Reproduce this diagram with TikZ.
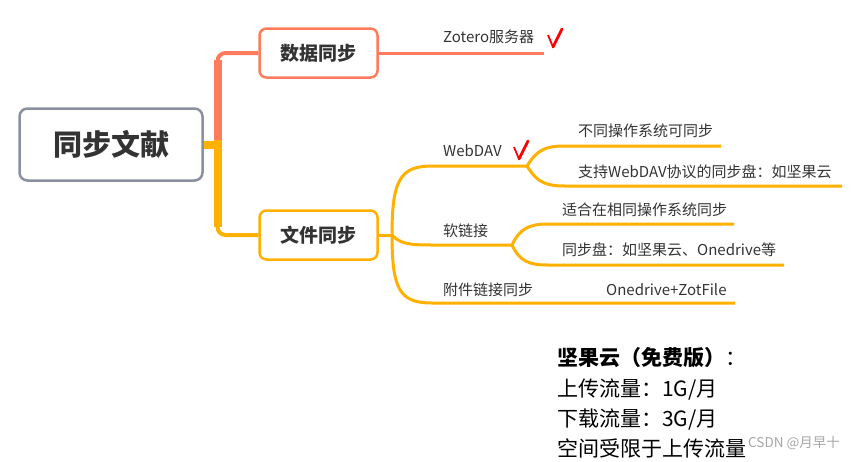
\documentclass[tikz,border=0pt]{standalone}
\usepackage{fontspec}
\setmainfont{Noto Sans CJK SC}
\usetikzlibrary{positioning}
\definecolor{mmred}{HTML}{FF7B5C}
\definecolor{mmorange}{HTML}{FFB000}
\definecolor{mmgray}{HTML}{8A909E}
\definecolor{mmtext}{HTML}{333333}

\begin{document}
\begin{tikzpicture}[
    x=1pt,y=-1pt,
    rootbox/.style  = {draw=mmgray, line width=2.5pt, rounded corners=8pt, fill=white,
                       minimum width=183pt, minimum height=72pt, text=mmtext,
                       font=\fontsize{29}{32}\selectfont\bfseries},
    topicbox/.style = {line width=2.5pt, rounded corners=7pt, fill=white,
                       minimum width=118pt, minimum height=49pt, text=mmtext,
                       font=\fontsize{19}{22}\selectfont\bfseries},
    leaf/.style     = {anchor=west, inner sep=0pt, text=mmtext,
                       font=\fontsize{15}{18}\selectfont},
    trunk/.style    = {line width=8pt},
    twig/.style     = {line width=3pt},
    note/.style     = {anchor=base west, inner sep=0pt, text=black,
                       font=\fontsize{21}{24}\selectfont},
  ]

  \tikzset{checkmark/.pic={
      \draw[red,line width=1.8pt] (0,6) -- (5,18);
      \draw[red,line width=2.8pt,line cap=round] (5,18) -- (14,0);}}

  \useasboundingbox (0,0) rectangle (860,461);

  % main topics
  \node[rootbox]               (root) at (111,144.5) {同步文献};
  \node[topicbox,draw=mmred]    (data) at (318.5,53)  {数据同步};
  \node[topicbox,draw=mmorange] (file) at (318.5,235) {文件同步};

  % trunk
  \coordinate (split)  at (217.5,140);
  \coordinate (redtop) at (217.5,60);
  \coordinate (orgbot) at (217.5,227);
  \draw[mmred,line width=4pt,rounded corners=8pt] (split) |- (data.west);
  \draw[mmred,trunk] (split) -- (redtop);
  \draw[mmorange,line width=4pt,rounded corners=8pt] (split) |- (file.west);
  \draw[mmorange,trunk] (split) -- (orgbot);
  \draw[mmorange,trunk] (root.east) -- ([xshift=4pt]split |- root.east);

  % data sync
  \coordinate (zotend) at (544,53);
  \draw[mmred,twig] (data.east) -- (zotend);
  \node[leaf] (zot) at (443,37) {Zotero服务器};
  \pic at (548,29) {checkmark};

  % file sync
  \coordinate (fork)     at (392,235);
  \coordinate (dav)      at (527,166);
  \coordinate (dav1end)  at (721,146);
  \coordinate (dav2end)  at (842,186);
  \coordinate (soft)     at (512,245);
  \coordinate (soft1end) at (734,224);
  \coordinate (soft2end) at (784,265);
  \coordinate (attend)   at (735,303);

  \draw[mmorange,twig] (file.east) -- (fork);
  \draw[mmorange,twig] (fork) .. controls (392,180) and (400,166) .. (432,166) -- (dav);
  \draw[mmorange,twig] (fork) .. controls (400,244) and (410,245) .. (432,245) -- (soft);
  \draw[mmorange,twig] (fork) .. controls (392,290) and (400,303) .. (432,303) -- (attend);

  \draw[mmorange,twig] (dav) .. controls (537,150) and (545,146) .. (565,146) -- (dav1end);
  \draw[mmorange,twig] (dav) .. controls (537,182) and (545,186) .. (565,186) -- (dav2end);
  \draw[mmorange,twig] (soft) .. controls (520,228) and (530,224) .. (548,224) -- (soft1end);
  \draw[mmorange,twig] (soft) .. controls (520,262) and (530,265) .. (548,265) -- (soft2end);

  \node[leaf] (davlbl)  at (443,151) {WebDAV};
  \pic at (514,141) {checkmark};
  \node[leaf] (davos)   at (578,131) {不同操作系统可同步};
  \node[leaf] (davjg)   at (578,172) {支持WebDAV协议的同步盘：如坚果云};
  \node[leaf] (softlbl) at (443,231) {软链接};
  \node[leaf] (softos)  at (562,210) {适合在相同操作系统同步};
  \node[leaf] (softpan) at (562,250) {同步盘：如坚果云、Onedrive等};
  \node[leaf] (attlbl)  at (443,290) {附件链接同步};
  \node[leaf] (attzf)   at (606,290) {Onedrive+ZotFile};

  % note
  \node[note] (jg)    at (557,365) {\textbf{坚果云（免费版）}：};
  \node[note] (up)    at (557,396) {上传流量：1G/月};
  \node[note] (down)  at (557,426) {下载流量：3G/月};
  \node[note] (space) at (557,456) {空间受限于上传流量};

  \node[anchor=west,inner sep=0pt,text=gray!70,font=\fontsize{13.5}{15}\selectfont]
       (wm) at (748,443) {CSDN @月早十};
\end{tikzpicture}
\end{document}
